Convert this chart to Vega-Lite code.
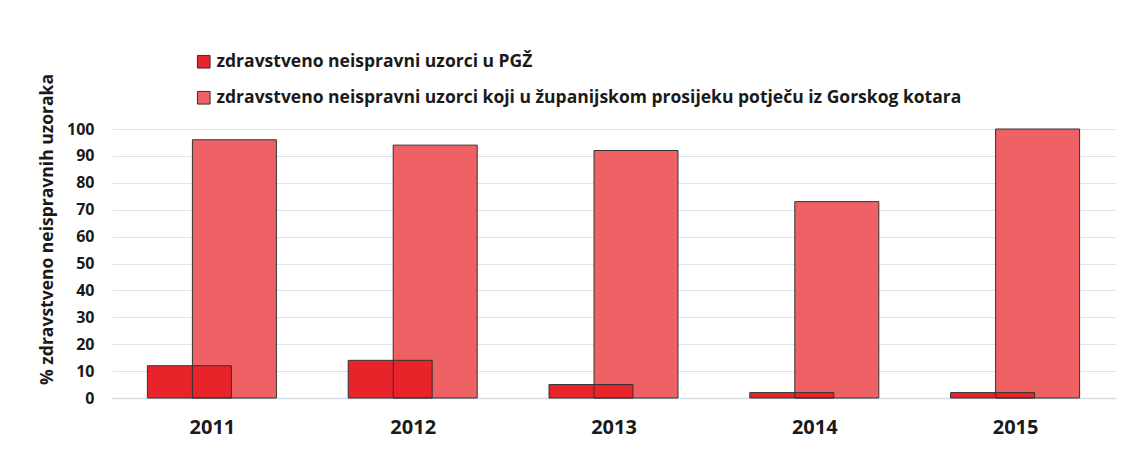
{
  "$schema": "https://vega.github.io/schema/vega-lite/v6.json",
  "autosize": "none",
  "width": 1004,
  "height": 269,
  "padding": {"left": 112, "top": 129, "right": 16, "bottom": 60},
  "background": "#ffffff",
  "config": {
    "view": {"stroke": null},
    "font": "Open Sans",
    "axis": {"labelFont": "Open Sans", "titleFont": "Open Sans", "labelColor": "#1a1a1a", "titleColor": "#1a1a1a"},
    "legend": {"labelFont": "Open Sans"}
  },
  "data": {
    "values": [
      {"year": "2011", "series": "zdravstveno neispravni uzorci u PGŽ", "value": 12},
      {"year": "2012", "series": "zdravstveno neispravni uzorci u PGŽ", "value": 14},
      {"year": "2013", "series": "zdravstveno neispravni uzorci u PGŽ", "value": 5},
      {"year": "2014", "series": "zdravstveno neispravni uzorci u PGŽ", "value": 2},
      {"year": "2015", "series": "zdravstveno neispravni uzorci u PGŽ", "value": 2},
      {"year": "2011", "series": "zdravstveno neispravni uzorci koji u županijskom prosijeku potječu iz Gorskog kotara", "value": 96},
      {"year": "2012", "series": "zdravstveno neispravni uzorci koji u županijskom prosijeku potječu iz Gorskog kotara", "value": 94},
      {"year": "2013", "series": "zdravstveno neispravni uzorci koji u županijskom prosijeku potječu iz Gorskog kotara", "value": 92},
      {"year": "2014", "series": "zdravstveno neispravni uzorci koji u županijskom prosijeku potječu iz Gorskog kotara", "value": 73},
      {"year": "2015", "series": "zdravstveno neispravni uzorci koji u županijskom prosijeku potječu iz Gorskog kotara", "value": 100}
    ]
  },
  "encoding": {
    "x": {
      "field": "year", "type": "nominal",
      "scale": {"paddingInner": 0, "paddingOuter": 0},
      "axis": {
        "title": null, "labelAngle": 0, "labelFontSize": 20, "labelFontWeight": "bold",
        "ticks": false, "labelPadding": 19, "domainColor": "#d3dde8", "domainWidth": 1.5
      }
    },
    "y": {
      "field": "value", "type": "quantitative",
      "scale": {"domain": [0, 100], "nice": false},
      "axis": {
        "values": [0, 10, 20, 30, 40, 50, 60, 70, 80, 90, 100],
        "title": "% zdravstveno neispravnih uzoraka",
        "titleFontSize": 17.5, "titleFontWeight": "bold",
        "titleX": -65, "titleY": 100, "titleAngle": -90, "titleAlign": "center", "titleBaseline": "middle",
        "labelFontSize": 16, "labelFontWeight": "bold", "labelPadding": 18,
        "ticks": false, "domain": false,
        "gridColor": "#dbe3ec", "gridWidth": 1.2
      }
    }
  },
  "layer": [
    {
      "transform": [{"filter": "datum.series != 'zdravstveno neispravni uzorci u PGŽ'"}],
      "mark": {"type": "bar", "width": 84, "xOffset": 22, "strokeWidth": 0},
      "encoding": {
        "color": {
          "field": "series", "type": "nominal",
          "scale": {
            "domain": ["zdravstveno neispravni uzorci u PGŽ", "zdravstveno neispravni uzorci koji u županijskom prosijeku potječu iz Gorskog kotara"],
            "range": ["#e8242a", "#ee6266"]
          },
          "legend": {
            "title": null, "orient": "none", "legendX": 83, "legendY": -76,
            "direction": "vertical",
            "symbolType": "square", "symbolSize": 160, "symbolStrokeColor": "#333333", "symbolStrokeWidth": 1,
            "symbolOpacity": 1,
            "labelFontSize": 17.5, "labelFontWeight": "bold", "labelColor": "#1a1a1a",
            "labelLimit": 1000, "rowPadding": 17, "labelOffset": 4
          }
        }
      }
    },
    {
      "transform": [{"filter": "datum.series == 'zdravstveno neispravni uzorci u PGŽ'"}],
      "mark": {"type": "bar", "width": 84, "xOffset": -23, "stroke": "#333333", "strokeWidth": 1},
      "encoding": {
        "color": {"field": "series", "type": "nominal"}
      }
    },
    {
      "transform": [{"filter": "datum.series != 'zdravstveno neispravni uzorci u PGŽ'"}],
      "mark": {"type": "bar", "width": 84, "xOffset": 22, "fill": null, "fillOpacity": 0, "stroke": "#333333", "strokeWidth": 1}
    }
  ]
}
